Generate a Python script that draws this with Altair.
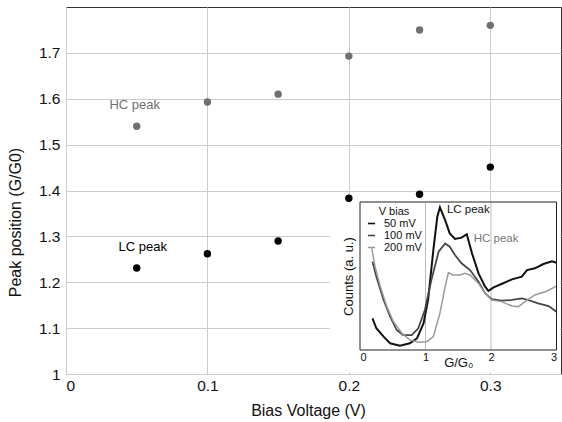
import altair as alt
import pandas as pd

FONT = "Liberation Sans"

# ---- main chart data ----
bias = [0.05, 0.10, 0.15, 0.20, 0.25, 0.30]
hc_peak = [1.540, 1.593, 1.610, 1.693, 1.750, 1.760]
lc_peak = [1.231, 1.262, 1.290, 1.383, 1.392, 1.451]
series_main = ["HC peak", "LC peak"]
x_ticks = [0, 0.1, 0.2, 0.3]
y_ticks = [1.0, 1.1, 1.2, 1.3, 1.4, 1.5, 1.6, 1.7]

# ---- inset data (counts, arbitrary units) ----
g50 = [0.19, 0.25, 0.36, 0.46, 0.61, 0.76, 0.87, 0.97, 1.04, 1.12, 1.18, 1.22, 1.30, 1.37, 1.45,
       1.55, 1.63, 1.71, 1.81, 1.91, 1.96, 2.04, 2.16, 2.32, 2.47, 2.55, 2.67, 2.80, 2.93, 3.0]
c50 = [21.4, 14.7, 9.0, 4.5, 2.9, 4.5, 7.9, 18.0, 34.0, 67.6, 90.0, 96.4, 87.8, 78.8, 75.0,
       75.9, 78.2, 65.3, 51.8, 42.8, 40.0, 42.3, 44.6, 47.7, 49.5, 54.0, 55.2, 58.1, 60.0, 59.0]
g100 = [0.19, 0.25, 0.36, 0.46, 0.56, 0.66, 0.79, 0.89, 0.99, 1.09, 1.20, 1.30, 1.37, 1.45,
        1.55, 1.68, 1.81, 1.91, 2.01, 2.16, 2.32, 2.47, 2.57, 2.72, 2.88, 3.0]
c100 = [59.7, 49.5, 33.8, 22.5, 13.5, 10.1, 10.1, 14.7, 27.0, 47.3, 66.4, 72.0, 69.8, 64.2,
        58.6, 54.0, 46.2, 38.3, 34.3, 33.3, 33.8, 34.9, 33.8, 31.5, 29.7, 25.9]
g200 = [0.18, 0.23, 0.31, 0.41, 0.51, 0.64, 0.76, 0.89, 1.02, 1.12, 1.22, 1.30, 1.35, 1.42,
        1.53, 1.60, 1.68, 1.81, 1.91, 2.01, 2.16, 2.32, 2.42, 2.52, 2.67, 2.83, 3.0]
c200 = [68.7, 56.3, 42.8, 29.3, 19.1, 11.3, 6.8, 5.2, 5.6, 9.0, 24.8, 42.8, 52.3, 50.7,
        50.7, 51.8, 50.7, 45.0, 38.3, 33.8, 32.7, 29.7, 29.3, 32.7, 37.2, 39.4, 43.2]
bias_labels = ["50 mV", "100 mV", "200 mV"]
inset_x_ticks = [0, 1, 2, 3]
inset_grid = [1, 2]

# ---------------- main layer ----------------
main_df = pd.DataFrame({
    "bias": bias + bias,
    "peak": hc_peak + lc_peak,
    "kind": [series_main[0]] * len(bias) + [series_main[1]] * len(bias),
})
hc_lab = pd.DataFrame({"bias": [bias[0]], "peak": [hc_peak[0]], "t": [series_main[0]]})
lc_lab = pd.DataFrame({"bias": [bias[0]], "peak": [lc_peak[0]], "t": [series_main[1]]})

xs = alt.Scale(domain=[0, 0.35], nice=False, zero=False)
ys = alt.Scale(domain=[1.0, 1.8], nice=False, zero=False)

x_axis = alt.Axis(values=x_ticks, format="~g", orient="bottom", grid=True, gridColor="#cccccc",
                  ticks=False, domain=False, labelFontSize=15.5, labelPadding=4, labelColor="#111",
                  title="Bias Voltage (V)", titleFontSize=16, titleFontWeight="normal",
                  titleColor="#111", titleX=242, titleY=28)
y_axis = alt.Axis(values=y_ticks, format="~g", orient="left", grid=True, gridColor="#cccccc",
                  ticks=False, domain=False, labelFontSize=15.5, labelPadding=6, labelColor="#111",
                  title="Peak position (G/G0)", titleFontSize=16, titleFontWeight="normal",
                  titleColor="#111", titleX=-51, titleY=215, titleBaseline="middle", titleAngle=-90)

points = alt.Chart(main_df).mark_point(filled=True, size=55, opacity=1).encode(
    x=alt.X("bias:Q", scale=xs, axis=x_axis),
    y=alt.Y("peak:Q", scale=ys, axis=y_axis),
    color=alt.Color("kind:N", scale=alt.Scale(domain=series_main, range=["#707070", "#000000"]),
                    legend=None),
)
hc_text = alt.Chart(hc_lab).mark_text(dx=-2, dy=-21, fontSize=13, color="#707070", baseline="middle").encode(
    x=alt.X("bias:Q", scale=xs, axis=x_axis), y=alt.Y("peak:Q", scale=ys, axis=y_axis), text="t:N")
lc_text = alt.Chart(lc_lab).mark_text(dx=6, dy=-21, fontSize=13, color="#000000", baseline="middle").encode(
    x=alt.X("bias:Q", scale=xs, axis=x_axis), y=alt.Y("peak:Q", scale=ys, axis=y_axis), text="t:N")

main = alt.layer(points, hc_text, lc_text)

# ---------------- inset layer ----------------
ix = alt.Scale(domain=[0, 3], range=[294, 490.5], nice=False, zero=False)
iy = alt.Scale(domain=[0, 100], range=[343, 195], nice=False, zero=False)

ix_axis = alt.Axis(values=inset_x_ticks, format="d", orient="bottom", offset=-24, grid=False,
                   ticks=False, domain=False, labelFontSize=11, labelPadding=1, labelColor="#111",
                   title="G/G\u2080", titleFontSize=13, titleFontWeight="normal", titleColor="#111",
                   titleY=6, zindex=1)
iy_axis = alt.Axis(orient="left", offset=-294, grid=False, ticks=False, domain=False, labels=False,
                   title="Counts (a. u.)", titleFontSize=13, titleFontWeight="normal",
                   titleColor="#111", titlePadding=5, zindex=1)

box_df = pd.DataFrame({"G": [-0.46], "G2": [3.05], "C": [-15.0], "C2": [100.0]})
frame_df = pd.DataFrame({"G": [0.0], "G2": [3.0], "C": [0.0], "C2": [100.0]})
grid_df = pd.DataFrame({"G": inset_grid, "C": [0.0] * len(inset_grid), "C2": [100.0] * len(inset_grid)})

lines_df = pd.DataFrame({
    "G": g50 + g100 + g200,
    "C": c50 + c100 + c200,
    "V": [bias_labels[0]] * len(g50) + [bias_labels[1]] * len(g100) + [bias_labels[2]] * len(g200),
})
i_lc = c50.index(max(c50))
i_hc = 16
lc_in = pd.DataFrame({"G": [g50[i_lc]], "C": [c50[i_lc]], "t": ["LC peak"]})
hc_in = pd.DataFrame({"G": [g50[i_hc]], "C": [c50[i_hc]], "t": ["HC peak"]})

def X():
    return alt.X("G:Q", scale=ix, axis=ix_axis)

def Y():
    return alt.Y("C:Q", scale=iy, axis=iy_axis)

box = alt.Chart(box_df).mark_rect(fill="white", stroke=None).encode(x=X(), x2="G2:Q", y=Y(), y2="C2:Q")
frame = alt.Chart(frame_df).mark_rect(fill="white", fillOpacity=0, stroke="#222", strokeWidth=1).encode(
    x=X(), x2="G2:Q", y=Y(), y2="C2:Q")
igrid = alt.Chart(grid_df).mark_rule(color="#bbbbbb", strokeWidth=1).encode(x=X(), y=Y(), y2="C2:Q")
lines = alt.Chart(lines_df).mark_line().encode(
    x=X(), y=Y(),
    color=alt.Color("V:N", scale=alt.Scale(domain=bias_labels, range=["#111111", "#454545", "#9a9a9a"]),
                    legend=alt.Legend(orient="none", legendX=300, legendY=199, title="V bias",
                                      titleFontSize=11, titleFontWeight="normal", titleColor="#111",
                                      titleAnchor="middle", titlePadding=1, labelFontSize=11,
                                      labelColor="#111", labelOffset=7, symbolType="M-1,0H1",
                                      symbolSize=50, symbolStrokeWidth=1.6, rowPadding=0,
                                      padding=0)),
    strokeWidth=alt.StrokeWidth("V:N", scale=alt.Scale(domain=bias_labels, range=[2.0, 1.5, 1.4]),
                                legend=None),
)
lc_in_text = alt.Chart(lc_in).mark_text(align="left", dx=7, dy=3, fontSize=11.5, color="#111").encode(
    x=X(), y=Y(), text="t:N")
hc_in_text = alt.Chart(hc_in).mark_text(align="left", dx=7, dy=5, fontSize=11.5, color="#777").encode(
    x=X(), y=Y(), text="t:N")

inset = alt.layer(box, igrid, lines, frame, lc_in_text, hc_in_text)

chart = alt.layer(inset, main).resolve_scale(
    x="independent", y="independent", color="independent"
).properties(
    width=495, height=367,
    padding={"left": 66, "top": 7, "right": 1, "bottom": 48},
    autosize=alt.AutoSizeParams(type="none"),
).configure(font=FONT).configure_view(stroke="#333333", strokeWidth=1)

chart.save("out.html", embed_options={"renderer": "svg", "actions": False})
